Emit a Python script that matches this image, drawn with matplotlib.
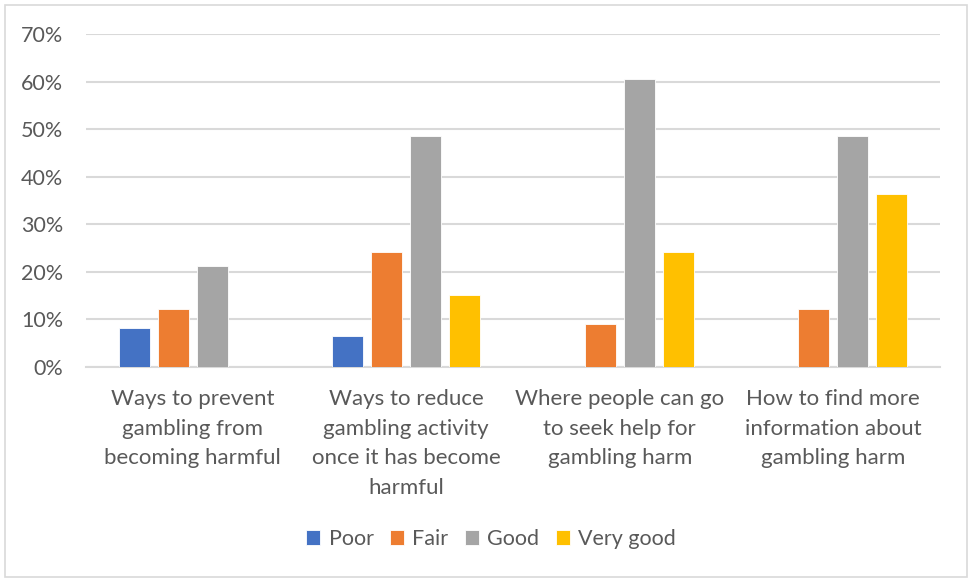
import matplotlib.pyplot as plt
import numpy as np
from matplotlib.patches import Rectangle

plt.rcParams['font.family'] = ['Lato', 'DejaVu Sans']

categories = [
    "Ways to prevent\ngambling from\nbecoming harmful",
    "Ways to reduce\ngambling activity\nonce it has become\nharmful",
    "Where people can go\nto seek help for\ngambling harm",
    "How to find more\ninformation about\ngambling harm",
]
series = ["Poor", "Fair", "Good", "Very good"]
poor = [8.3, 6.5, 0, 0]
fair = [12.1, 24.2, 9.1, 12.1]
good = [21.2, 48.5, 60.6, 48.5]
very_good = [0, 15.2, 24.2, 36.4]
colors = ["#4472C4", "#ED7D31", "#A5A5A5", "#FFC000"]

text_col = "#595959"
grid_col = "#D9D9D9"

fig = plt.figure(figsize=(9.69, 5.78), dpi=100)
ax = fig.add_axes([86/969, 1 - 367/578, (940-86)/969, (367-34)/578])

x = np.arange(len(categories))
step = 0.183
width = 0.145
for i, (name, vals) in enumerate(zip(series, [poor, fair, good, very_good])):
    ax.bar(x + (i - 1.5) * step, vals, width, color=colors[i], label=name,
           edgecolor="white", linewidth=0.6, zorder=3)

ax.set_xlim(-0.5, 3.5)
ax.set_ylim(0, 70)
ax.set_yticks(range(0, 71, 10))
ax.set_yticklabels([f"{v}%" for v in range(0, 71, 10)])
ax.set_xticks(x)
ax.set_xticklabels(categories, linespacing=1.6, fontsize=16)
ax.yaxis.grid(True, color=grid_col, linewidth=1.5, zorder=0)
for s in ["left", "right", "top"]:
    ax.spines[s].set_visible(False)
ax.spines["bottom"].set_color(grid_col)
ax.spines["bottom"].set_linewidth(1.5)
ax.tick_params(axis="both", length=0, colors=text_col)
ax.tick_params(axis="y", pad=16.5, labelsize=15.5)
ax.tick_params(axis="x", pad=16)

leg = fig.legend(loc="center", bbox_to_anchor=(491/969, 1 - 539/578), ncol=4,
                 frameon=False, fontsize=15.5, handlelength=0.65, handleheight=0.65,
                 handletextpad=0.4, columnspacing=0.75)
for t in leg.get_texts():
    t.set_color(text_col)

fig.patches.append(Rectangle((5/969, 1/578), 962/969, 572/578, transform=fig.transFigure,
                             fill=False, edgecolor="#D9D9D9", linewidth=1.2))

fig.savefig("out.png", dpi=100)
